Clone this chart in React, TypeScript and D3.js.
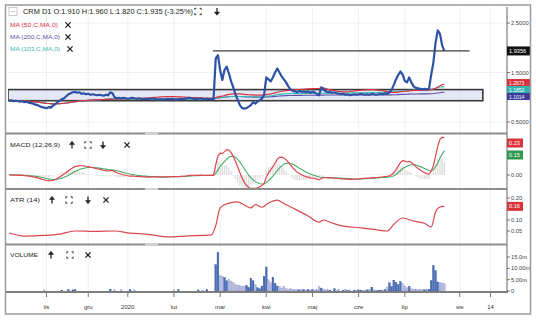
import React from "react";
import * as d3 from "d3";

// ---- data (trading-day index 0..198) ----
const closes = [
  0.93, 0.94, 0.92, 0.93, 0.92, 0.91, 0.92, 0.9, 0.91, 0.89,
  0.88, 0.87, 0.85, 0.84, 0.82, 0.8, 0.79, 0.78, 0.8, 0.79,
  0.83, 0.86, 0.9, 0.93, 0.96, 0.98, 1.02, 1.06, 1.08, 1.1,
  1.11, 1.09, 1.1, 1.07, 1.08, 1.06, 1.07, 1.05, 1.06, 1.05,
  1.04, 1.05, 1.04, 1.03, 1.05, 1.04, 1.1, 1.08, 1.0, 0.98,
  0.99, 0.98, 0.99, 0.98, 0.97, 0.98, 0.99, 0.98, 0.97, 0.98,
  0.97, 0.96, 0.97, 0.96, 0.97, 0.98, 0.97, 0.96, 0.95, 0.96,
  0.95, 0.96, 0.97, 0.96, 0.97, 0.96, 0.95, 0.96, 0.97, 0.96,
  0.97, 0.98, 0.99, 0.98, 0.97, 0.96, 0.97, 0.98, 0.97, 0.96,
  0.97, 0.96, 0.97, 0.96, 1.78, 1.85, 1.55, 1.35, 1.55, 1.62,
  1.48, 1.32, 1.2, 1.05, 0.95, 0.84, 0.78, 0.77, 0.78, 0.81,
  0.84, 0.9, 0.87, 0.91, 0.94, 0.97, 1.05, 1.4, 1.36, 1.32,
  1.4, 1.5, 1.58, 1.5, 1.42, 1.36, 1.3, 1.22, 1.16, 1.13,
  1.12, 1.1, 1.13, 1.11, 1.12, 1.1, 1.12, 1.09, 1.11, 1.1,
  1.06, 1.04, 1.2, 1.16, 1.12, 1.1, 1.11, 1.09, 1.1, 1.08,
  1.07, 1.06, 1.07, 1.05, 1.06, 1.04, 1.05, 1.06, 1.05, 1.06,
  1.07, 1.06, 1.05, 1.06, 1.05, 1.07, 1.06, 1.05, 1.06, 1.07,
  1.06, 1.08, 1.07, 1.1, 1.15, 1.25, 1.36, 1.45, 1.52, 1.46,
  1.33, 1.3, 1.4, 1.3, 1.22, 1.19, 1.18, 1.17, 1.16, 1.17,
  1.16, 1.17, 1.45, 1.7, 2.1, 2.35, 2.28, 2.05, 1.935,
];

const volumes = [
  0, 0, 0, 0, 0, 0, 0, 0, 0, 0,
  0, 0, 0, 0, 0, 0, 0.5, 0, 0, 0,
  0, 0, 0, 0, 0.4, 0, 0, 0.6, 0, 0.5,
  0.7, 0, 0, 0, 0, 0, 0, 0, 0, 0,
  0, 0, 0, 0, 0, 0, 0.8, 0, 0.5, 0,
  0, 0.6, 0, 0, 0, 0.7, 0, 0.5, 0, 0,
  0, 0, 0, 0, 0, 0, 0, 0, 0, 0,
  0, 0, 0, 0, 0, 0.5, 0, 0.6, 0, 0,
  0, 0, 0, 0, 0, 0, 0.5, 0, 0.4, 0,
  0.6, 0, 0, 0, 11.6, 17.0, 6.8, 6.5, 6.0, 4.5,
  5.0, 4.4, 3.6, 2.9, 2.6, 2.4, 2.2, 2.0, 2.5, 1.7,
  5.5, 4.5, 2.8, 1.4, 1.0, 2.2, 6.5, 10.6, 5.0, 3.6,
  6.0, 3.4, 2.2, 1.9, 1.3, 1.9, 1.0, 0.8, 1.0, 0.7,
  0.6, 0.8, 0.5, 0.7, 0.6, 0.5, 0.7, 0.4, 0.6, 0.5,
  0.6, 1.9, 1.3, 0.8, 0.5, 0.6, 0.4, 0, 1.0, 0.3,
  0.6, 0, 0.4, 0.8, 0.3, 0.5, 0, 0.4, 0.3, 0.5,
  0.4, 0.3, 0.4, 0.5, 0.6, 1.7, 0.5, 0.4, 0.3, 0.4,
  0.5, 0.6, 1.8, 3.6, 2.0, 4.8, 3.9, 2.9, 4.2, 3.3,
  2.2, 1.4, 2.0, 1.0, 0.8, 0.7, 0.6, 0.8, 0.5, 0.6,
  0.7, 0.8, 4.6, 11.3, 9.0, 4.0, 3.7, 3.5, 3.2,
];

const atrIdx = [0, 7, 16, 23, 30, 39, 48, 55, 62, 73, 80, 92, 94, 96, 100, 104, 107, 110, 112, 115, 118, 122, 125, 131, 136, 141, 143, 146, 150, 160, 166, 172, 175, 179, 184, 189, 192, 194, 196, 198];
const atrVal = [0.041, 0.027, 0.03, 0.036, 0.05, 0.048, 0.05, 0.04, 0.036, 0.023, 0.027, 0.032, 0.075, 0.155, 0.177, 0.182, 0.168, 0.155, 0.17, 0.158, 0.177, 0.19, 0.175, 0.145, 0.118, 0.09, 0.1, 0.09, 0.077, 0.064, 0.057, 0.05, 0.08, 0.109, 0.095, 0.085, 0.068, 0.136, 0.159, 0.162];

const monthIdx = [17, 36, 54, 75, 96, 117, 138, 159, 180, 205, 219];
const monthLabels = ["lis", "gru", "2020", "lut", "mar", "kwi", "maj", "cze", "lip", "sie", "14"];

const priceTicks = [2.5, 1.5, 0.5];
const priceTickLabels = ["2.5000", "1.5000", "0.5000"];
const macdTicks = [0];
const macdTickLabels = ["0.00"];
const atrTicks = [0.2, 0.1, 0.05];
const atrTickLabels = ["0.20", "0.10", "0.05"];
const volTicks = [15, 10, 5, 0];
const volTickLabels = ["15.0m", "10.00m", "5.00m", "0"];

const levelPrice = 1.9356;
const levelFrom = 92.7;
const levelTo = 209.5;
const boxTop = 1.155;
const boxBottom = 0.93;
const boxFrom = -0.5;
const boxTo = 215.5;

const FONT = "Liberation Sans, Arial, sans-serif";

function sma(arr: number[], n: number) {
  return arr.map((_, i) => d3.mean(arr.slice(Math.max(0, i - n + 1), i + 1)) as number);
}
function ema(arr: number[], n: number) {
  const k = 2 / (n + 1);
  const out: number[] = [];
  arr.forEach((v, i) => out.push(i === 0 ? v : out[i - 1] + k * (v - out[i - 1])));
  return out;
}

function UpArrow({ x, y }: { x: number; y: number }) {
  return (
    <g stroke="#222" fill="#222" strokeWidth={1.3}>
      <line x1={x} y1={y + 3.5} x2={x} y2={y - 1} />
      <path d={`M${x - 2.6},${y - 0.5}L${x},${y - 3.8}L${x + 2.6},${y - 0.5}Z`} strokeWidth={0.5} />
    </g>
  );
}
function DownArrow({ x, y }: { x: number; y: number }) {
  return (
    <g stroke="#222" fill="#222" strokeWidth={1.3}>
      <line x1={x} y1={y - 3.5} x2={x} y2={y + 1} />
      <path d={`M${x - 2.6},${y + 0.5}L${x},${y + 3.8}L${x + 2.6},${y + 0.5}Z`} strokeWidth={0.5} />
    </g>
  );
}
function FullIcon({ x, y }: { x: number; y: number }) {
  const s = 3.2, c = 1.6;
  return (
    <g stroke="#333" fill="none" strokeWidth={1}>
      <path d={`M${x - s},${y - s + c}V${y - s}H${x - s + c}`} />
      <path d={`M${x + s - c},${y - s}H${x + s}V${y - s + c}`} />
      <path d={`M${x - s},${y + s - c}V${y + s}H${x - s + c}`} />
      <path d={`M${x + s - c},${y + s}H${x + s}V${y + s - c}`} />
    </g>
  );
}
function XIcon({ x, y }: { x: number; y: number }) {
  const s = 2.6;
  return (
    <g stroke="#222" strokeWidth={1.3}>
      <line x1={x - s} y1={y - s} x2={x + s} y2={y + s} />
      <line x1={x - s} y1={y + s} x2={x + s} y2={y - s} />
    </g>
  );
}

export default function App() {
  const L = 8, R = 507;
  const x = d3.scaleLinear().domain([-0.5, 226.5]).range([L, R]);
  const yP = d3.scaleLinear().domain([0.5, 2.5]).range([122, 23]);
  const yM = d3.scaleLinear().domain([0, 0.2]).range([175, 143]);
  const yA = d3.scaleLinear().domain([0, 0.2]).range([242, 198]);
  const yV = d3.scaleLinear().domain([0, 15]).range([291, 257]);

  const panels = {
    main: [7, 132],
    macd: [135, 188],
    atr: [190, 243],
    vol: [246, 291],
  };

  const ma50 = sma(closes, 50);
  const ma200 = sma(closes, 200);
  const ma103 = sma(closes, 103);
  const e12 = ema(closes, 12);
  const e26 = ema(closes, 26);
  const macd = closes.map((_, i) => e12[i] - e26[i]);
  const signal = ema(macd, 9);
  const hist = macd.map((m, i) => m - signal[i]);

  const lineP = d3.line<number>().x((_, i) => x(i)).y((d) => yP(d));
  const lineM = d3.line<number>().x((_, i) => x(i)).y((d) => yM(d));
  const lineA = d3.line<number>().x((i) => x(i)).y((_, k) => yA(atrVal[k])).curve(d3.curveMonotoneX);

  const last = closes.length - 1;
  const clampY = (v: number, lo: number, hi: number) => Math.max(lo, Math.min(hi, v));

  // stacked MA value boxes (kept apart so labels don't collide)
  const yRed = yP(ma50[last]) - 1.5;
  const yTeal = Math.max(yP(ma103[last]), yRed + 7);
  const yBlue = Math.max(yP(ma200[last]), yTeal + 7);

  const rightTick = (y: number, label: string, key: string) => (
    <g key={key}>
      <line x1={R} x2={R + 3} y1={y} y2={y} stroke="#555" strokeWidth={0.8} />
      <text x={R + 4} y={y + 2} fontSize={5.8} fill="#444" fontFamily={FONT}>{label}</text>
    </g>
  );
  const valueBox = (y: number, label: string, fill: string, w: number, key: string, h = 9, fs = 5.6) => (
    <g key={key}>
      <rect x={R} y={y - h / 2} width={w} height={h} fill={fill} />
      <text x={R + 2} y={y + 2} fontSize={fs} fill="#fff" fontFamily={FONT}>{label}</text>
    </g>
  );

  return (
    <svg width={536} height={320} style={{ position: "fixed", left: 0, top: 0, background: "#fff" }} fontFamily={FONT}>
      <defs>
        {Object.entries(panels).map(([k, [t, b]]) => (
          <clipPath id={`clip-${k}`} key={k}>
            <rect x={L} y={t} width={R - L} height={b - t} />
          </clipPath>
        ))}
      </defs>

      {/* grid */}
      {monthIdx.map((m, k) => (
        <line key={`vg${k}`} x1={x(m)} x2={x(m)} y1={7} y2={291} stroke="#ececec" strokeWidth={0.8} />
      ))}
      {priceTicks.map((p, k) => (
        <line key={`hg${k}`} x1={L} x2={R} y1={yP(p)} y2={yP(p)} stroke="#ececec" strokeWidth={0.8} />
      ))}

      {/* main panel */}
      <g clipPath="url(#clip-main)">
        <rect x={x(boxFrom)} y={yP(boxTop)} width={x(boxTo) - x(boxFrom)} height={yP(boxBottom) - yP(boxTop)}
          fill="#c9d0ea" fillOpacity={0.5} stroke="#3a3a3a" strokeWidth={1.6} />
        <path d={lineP(ma200) || ""} fill="none" stroke="#5b4ea3" strokeWidth={1.1} />
        <path d={lineP(ma103) || ""} fill="none" stroke="#3bb8b8" strokeWidth={1.1} />
        <path d={lineP(ma50) || ""} fill="none" stroke="#d8323c" strokeWidth={1.2} />
        <path d={lineP(closes) || ""} fill="none" stroke="#2d52a5" strokeWidth={2.2} strokeLinejoin="round" />
        <line x1={x(levelFrom)} x2={x(levelTo)} y1={yP(levelPrice)} y2={yP(levelPrice)} stroke="#3f3f3f" strokeWidth={1.3} />
      </g>

      {/* macd panel */}
      <g clipPath="url(#clip-macd)">
        {hist.map((h, i) => (
          <rect key={`h${i}`} x={x(i) - 0.7} width={1.4} y={Math.min(yM(h), yM(0))} height={Math.abs(yM(h) - yM(0))} fill="#dedede" />
        ))}
        <path d={lineM(signal) || ""} fill="none" stroke="#4aa866" strokeWidth={1.1} />
        <path d={lineM(macd) || ""} fill="none" stroke="#e0444f" strokeWidth={1.2} />
      </g>

      {/* atr panel */}
      <g clipPath="url(#clip-atr)">
        <path d={lineA(atrIdx) || ""} fill="none" stroke="#d9474f" strokeWidth={1.2} />
      </g>

      {/* volume panel */}
      <g clipPath="url(#clip-vol)">
        {volumes.map((v, i) =>
          v > 0 ? (
            <rect key={`v${i}`} x={x(i) - 0.9} width={1.8} y={yV(v)} height={yV(0) - yV(v)}
              fill={i > 0 && closes[i] < closes[i - 1] ? "#b3b9de" : "#4a6fb8"}
              stroke={i > 0 && closes[i] < closes[i - 1] ? "#8f97c9" : "#2f5199"} strokeWidth={0.3} />
          ) : null
        )}
      </g>

      {/* separators */}
      {[133.5, 189, 244.5].map((y, k) => (
        <g key={`sep${k}`}>
          <rect x={6} y={y - 1} width={R - 6} height={2} fill="#8d8d8d" />
          <rect x={145} y={y - 1} width={13} height={2} fill="#d4d4d4" />
        </g>
      ))}
      {/* x axis */}
      <rect x={6} y={291} width={R - 6 + 1} height={2} fill="#7d7d7d" />
      {monthIdx.map((m, k) => (
        <g key={`xt${k}`}>
          <line x1={x(m)} x2={x(m)} y1={293} y2={297} stroke="#555" strokeWidth={0.8} />
          <text x={x(m)} y={309} fontSize={6} textAnchor="middle" fill="#333">{monthLabels[k]}</text>
        </g>
      ))}
      {/* right axis */}
      <line x1={R} x2={R} y1={7} y2={293} stroke="#7d7d7d" strokeWidth={1.2} />
      {priceTicks.map((p, k) => rightTick(yP(p), priceTickLabels[k], `pt${k}`))}
      {macdTicks.map((p, k) => rightTick(yM(p), macdTickLabels[k], `mt${k}`))}
      {atrTicks.map((p, k) => rightTick(yA(p), atrTickLabels[k], `at${k}`))}
      {volTicks.map((p, k) => rightTick(yV(p), volTickLabels[k], `vt${k}`))}

      {valueBox(yP(levelPrice), levelPrice.toFixed(4), "#111", 23, "lvl")}
      {valueBox(yRed, ma50[last].toFixed(4), "#d8323c", 23, "b50", 7, 5)}
      {valueBox(yTeal, "1.1852", "#33b3b3", 23, "b103", 7, 5)}
      {valueBox(yBlue, ma200[last].toFixed(4), "#3e3a9c", 23, "b200", 7, 5)}
      {valueBox(clampY(yM(macd[last]), 143, 183), macd[last].toFixed(2), "#d9343c", 16, "bm")}
      {valueBox(clampY(yM(signal[last]), 155, 183), signal[last].toFixed(2), "#2f9a4f", 16, "bs")}
      {valueBox(yA(atrVal[atrVal.length - 1]), atrVal[atrVal.length - 1].toFixed(2), "#d9343c", 16, "ba")}

      {/* headers */}
      <rect x={9} y={7.5} width={8} height={8} fill="none" stroke="#bbb" strokeWidth={0.8} />
      <line x1={11} x2={15} y1={11.5} y2={11.5} stroke="#bbb" strokeWidth={0.8} />
      <text x={23} y={14} fontSize={6.3} fill="#222" textLength={170} lengthAdjust="spacingAndGlyphs">CRM D1 O:1.910 H:1.960 L:1.820 C:1.935 (-3.25%)</text>
      <FullIcon x={198} y={11.5} />
      <DownArrow x={217} y={11.5} />
      <text x={10} y={27} fontSize={5.8} fill="#d8323c" textLength={48} lengthAdjust="spacingAndGlyphs">MA (50,C,MA,0)</text>
      <XIcon x={68} y={25} />
      <text x={10} y={39} fontSize={5.8} fill="#5b4ea3" textLength={50} lengthAdjust="spacingAndGlyphs">MA (200,C,MA,0)</text>
      <XIcon x={68} y={37} />
      <text x={10} y={51} fontSize={5.8} fill="#3bb8b8" textLength={50} lengthAdjust="spacingAndGlyphs">MA (103,C,MA,0)</text>
      <XIcon x={70} y={49} />

      <text x={10} y={147} fontSize={6} fill="#222" textLength={50} lengthAdjust="spacingAndGlyphs">MACD (12,26,9)</text>
      <UpArrow x={72} y={145} />
      <FullIcon x={88} y={145} />
      <DownArrow x={103} y={145} />
      <XIcon x={127} y={145} />

      <text x={10} y={202} fontSize={6} fill="#222" textLength={30} lengthAdjust="spacingAndGlyphs">ATR (14)</text>
      <UpArrow x={52} y={200} />
      <FullIcon x={69} y={200} />
      <DownArrow x={88} y={200} />
      <XIcon x={106} y={200} />

      <text x={10} y={257} fontSize={6} fill="#222" textLength={28} lengthAdjust="spacingAndGlyphs">VOLUME</text>
      <UpArrow x={51} y={255} />
      <FullIcon x={70} y={255} />
      <XIcon x={88} y={255} />

      {/* outer frame */}
      <rect x={5.5} y={5} width={525} height={309} fill="none" stroke="#9a9a9a" strokeWidth={1.5} />
    </svg>
  );
}
